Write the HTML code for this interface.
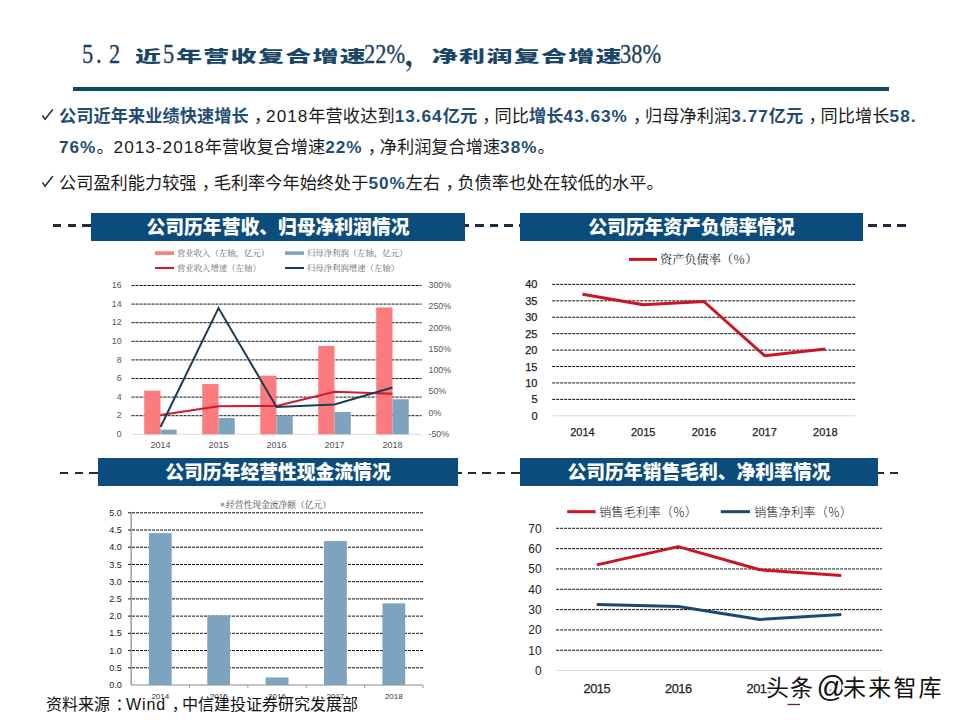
<!DOCTYPE html>
<html><head><meta charset="utf-8">
<style>
*{margin:0;padding:0;box-sizing:border-box}
html,body{width:960px;height:720px;background:#fff;overflow:hidden}
body{position:relative;font-family:"Liberation Sans","Noto Sans CJK SC",sans-serif;color:#222}
.abs{position:absolute}
.tn{position:absolute;top:36px;font-family:"Liberation Serif",serif;font-size:28px;line-height:36px;color:#1e3f60;white-space:nowrap;transform:scaleX(0.8);transform-origin:0 0;-webkit-text-stroke:0.35px #1e3f60}
.tc{position:absolute;top:43.7px;font-family:"Noto Sans CJK SC",sans-serif;font-weight:900;font-size:26px;letter-spacing:1.3px;line-height:36px;color:#1a4668;white-space:nowrap;transform:scaleY(0.61);transform-origin:0 0}
.tm{position:absolute;top:35.5px;font-family:"Noto Serif CJK SC",serif;font-weight:900;font-size:27px;line-height:36px;color:#1e3f60}
#bar{left:72.5px;top:87px;width:816px;height:4px;background:#0d4a64}
.bl{left:59px;font-size:17.2px;line-height:20px;white-space:nowrap;color:#1a1a1a}
.bl b{color:#1e4c73;font-weight:bold}
.cm{font-style:normal;position:relative;left:0.3em}
.bl s{text-decoration:none;letter-spacing:1px}
.hd{position:absolute;background:#0b4c7c;color:#fff;font-weight:900;font-size:18.8px;text-align:center;line-height:29.5px;height:28px;white-space:nowrap}
.dash{position:absolute;height:2.4px;background:repeating-linear-gradient(90deg,#1d2d3d 0 8.4px,transparent 8.4px 14.56px)}
svg{position:absolute;left:0;top:0}
.t1{font-family:"Liberation Sans",sans-serif;font-size:8.8px;fill:#555}
.t1x{font-family:"Liberation Sans",sans-serif;font-size:9px;fill:#505050}
.t2{font-family:"Liberation Sans",sans-serif;font-size:11px;fill:#222;stroke:#222;stroke-width:0.25px}
.t3{font-family:"Liberation Sans",sans-serif;font-size:9px;fill:#1a1a1a}
.t3x{font-family:"Liberation Sans",sans-serif;font-size:8px;fill:#333}
.t4x{font-family:"Liberation Sans",sans-serif;font-size:12.8px;letter-spacing:-0.5px;fill:#222;stroke:#222;stroke-width:0.25px}
.t4{font-family:"Liberation Sans",sans-serif;font-size:12px;fill:#222}
.lg{font-family:"Liberation Serif","Noto Serif CJK SC",serif;font-size:8.4px;fill:#666}
.lg3{font-family:"Liberation Serif","Noto Serif CJK SC",serif;font-size:8.75px;fill:#4a4a4a}
.lg2{font-family:"Noto Serif CJK SC",serif;font-weight:400;font-size:12.2px;fill:#222}
.lg4{font-family:"Noto Sans CJK SC",sans-serif;font-weight:300;font-size:12.3px;fill:#111}
#src{left:46px;top:692.5px;font-size:16px;color:#111;white-space:nowrap;line-height:24px}
#src s{text-decoration:none;letter-spacing:0.9px}
#src .cm{left:0.35em}
.wm{font-family:"Liberation Sans","Noto Sans CJK SC",sans-serif;font-size:23px;letter-spacing:1.1px;fill:#111;stroke:#fff;stroke-width:5px;paint-order:stroke;stroke-linejoin:round}
</style></head><body>
<div class="tn" style="left:81.5px">5</div>
<div class="tn" style="left:95.5px">.</div>
<div class="tn" style="left:108.8px">2</div>
<div class="tc" style="left:135px">近</div>
<div class="tn" style="left:163px">5</div>
<div class="tc" style="left:176px">年营收复合增速</div>
<div class="tn" style="left:363.5px">22%</div>
<div class="tm" style="left:405px">，</div>
<div class="tc" style="left:431.8px">净利润复合增速</div>
<div class="tn" style="left:619.5px">38%</div>
<div id="bar" class="abs"></div>

<svg width="960" height="720" style="position:absolute;left:0;top:0">
<path d="M42.5 115.5 L45 119.3 L52.8 109.5" fill="none" stroke="#1b2b3b" stroke-width="1.5"/>
<path d="M42.5 182.3 L45 186.1 L52.8 176.3" fill="none" stroke="#1b2b3b" stroke-width="1.5"/>
</svg>
<div class="bl abs" id="l1" style="top:106.2px;letter-spacing:0.07px"><b>公司近年来业绩快速增长</b><i class="cm">，</i><s>2018</s>年营收达到<b><s>13.64</s>亿元</b><i class="cm">，</i>同比<b>增长<s>43.63%</s></b><i class="cm">，</i>归母净利润<b><s>3.77</s>亿元</b><i class="cm">，</i>同比增长<b><s>58.</s></b></div>
<div class="bl abs" id="l2" style="top:137px"><b><s>76%</s></b>。<s>2013-2018</s>年营收复合增速<b><s>22%</s></b><i class="cm">，</i>净利润复合增速<b><s>38%</s></b>。</div>
<div class="bl abs" id="l3" style="top:173px">公司盈利能力较强<i class="cm">，</i>毛利率今年始终处于<b><s>50%</s></b>左右<i class="cm">，</i>负债率也处在较低的水平。</div>

<!-- header dashes -->
<div class="dash" style="left:53.3px;top:224.3px;width:852.7px"></div>
<div class="dash" style="left:60.4px;top:472.1px;width:838.6px"></div>
<div class="hd" style="left:91px;top:212.5px;width:374px">公司历年营收、归母净利润情况</div>
<div class="hd" style="left:520px;top:212.5px;width:343px">公司历年资产负债率情况</div>
<div class="hd" style="left:98px;top:458px;width:360px">公司历年经营性现金流情况</div>
<div class="hd" style="left:520px;top:458px;width:358px">公司历年销售毛利、净利率情况</div>

<!--SVG--><svg width="960" height="720" viewBox="0 0 960 720">
<line x1="131.5" y1="415.7" x2="421.5" y2="415.7" stroke="#111" stroke-width="1" stroke-dasharray="3 1"/>
<line x1="131.5" y1="397.1" x2="421.5" y2="397.1" stroke="#111" stroke-width="1" stroke-dasharray="3 1"/>
<line x1="131.5" y1="378.5" x2="421.5" y2="378.5" stroke="#111" stroke-width="1" stroke-dasharray="3 1"/>
<line x1="131.5" y1="359.9" x2="421.5" y2="359.9" stroke="#111" stroke-width="1" stroke-dasharray="3 1"/>
<line x1="131.5" y1="341.3" x2="421.5" y2="341.3" stroke="#111" stroke-width="1" stroke-dasharray="3 1"/>
<line x1="131.5" y1="322.7" x2="421.5" y2="322.7" stroke="#111" stroke-width="1" stroke-dasharray="3 1"/>
<line x1="131.5" y1="304.1" x2="421.5" y2="304.1" stroke="#111" stroke-width="1" stroke-dasharray="3 1"/>
<line x1="131.5" y1="285.5" x2="421.5" y2="285.5" stroke="#111" stroke-width="1" stroke-dasharray="3 1"/>
<line x1="131.5" y1="434.3" x2="421.5" y2="434.3" stroke="#d9d9d9" stroke-width="1"/>
<text x="121.6" y="436.9" class="t1" text-anchor="end">0</text>
<text x="121.6" y="418.3" class="t1" text-anchor="end">2</text>
<text x="121.6" y="399.7" class="t1" text-anchor="end">4</text>
<text x="121.6" y="381.1" class="t1" text-anchor="end">6</text>
<text x="121.6" y="362.5" class="t1" text-anchor="end">8</text>
<text x="121.6" y="343.9" class="t1" text-anchor="end">10</text>
<text x="121.6" y="325.3" class="t1" text-anchor="end">12</text>
<text x="121.6" y="306.7" class="t1" text-anchor="end">14</text>
<text x="121.6" y="288.1" class="t1" text-anchor="end">16</text>
<text x="428.5" y="436.9" class="t1">-50%</text>
<text x="428.5" y="415.6" class="t1">0%</text>
<text x="428.5" y="394.4" class="t1">50%</text>
<text x="428.5" y="373.1" class="t1">100%</text>
<text x="428.5" y="351.9" class="t1">150%</text>
<text x="428.5" y="330.6" class="t1">200%</text>
<text x="428.5" y="309.4" class="t1">250%</text>
<text x="428.5" y="288.1" class="t1">300%</text>
<rect x="144.25" y="390.59" width="16.25" height="43.71" fill="#fc7b7f"/>
<rect x="160.50" y="429.65" width="16.25" height="4.65" fill="#7ea3bf"/>
<text x="160.5" y="448" class="t1x" text-anchor="middle">2014</text>
<rect x="202.25" y="384.08" width="16.25" height="50.22" fill="#fc7b7f"/>
<rect x="218.50" y="418.03" width="16.25" height="16.28" fill="#7ea3bf"/>
<text x="218.5" y="448" class="t1x" text-anchor="middle">2015</text>
<rect x="260.25" y="375.71" width="16.25" height="58.59" fill="#fc7b7f"/>
<rect x="276.50" y="415.70" width="16.25" height="18.60" fill="#7ea3bf"/>
<text x="276.5" y="448" class="t1x" text-anchor="middle">2016</text>
<rect x="318.25" y="345.95" width="16.25" height="88.35" fill="#fc7b7f"/>
<rect x="334.50" y="411.98" width="16.25" height="22.32" fill="#7ea3bf"/>
<text x="334.5" y="448" class="t1x" text-anchor="middle">2017</text>
<rect x="376.25" y="307.45" width="16.25" height="126.85" fill="#fc7b7f"/>
<rect x="392.50" y="399.24" width="16.25" height="35.06" fill="#7ea3bf"/>
<text x="392.5" y="448" class="t1x" text-anchor="middle">2018</text>
<polyline points="160.5,415 218.5,406.2 276.5,406 334.5,391.8 392.5,393.8" fill="none" stroke="#d11a2a" stroke-width="2"/>
<polyline points="160.5,427 218.5,308 276.5,407 334.5,404.5 392.5,387.5" fill="none" stroke="#1d3c5a" stroke-width="2"/>
<rect x="155" y="251.3" width="19" height="3.6" fill="#fc7b7f"/>
<text x="177" y="255.9" class="lg">营业收入（左轴，亿元）</text>
<rect x="285" y="251.3" width="19" height="3.6" fill="#7ea3bf"/>
<text x="307" y="255.9" class="lg">归母净利润（左轴，亿元）</text>
<line x1="155" y1="268" x2="174" y2="268" stroke="#d11a2a" stroke-width="2"/>
<text x="177" y="271" class="lg">营业收入增速（左轴）</text>
<line x1="285" y1="268" x2="304" y2="268" stroke="#1d3c5a" stroke-width="2"/>
<text x="307" y="271" class="lg">归母净利润增速（左轴）</text>
<line x1="552.2" y1="399.38" x2="855.6" y2="399.38" stroke="#111" stroke-width="1" stroke-dasharray="3 1"/>
<line x1="552.2" y1="382.95" x2="855.6" y2="382.95" stroke="#111" stroke-width="1" stroke-dasharray="3 1"/>
<line x1="552.2" y1="366.52" x2="855.6" y2="366.52" stroke="#111" stroke-width="1" stroke-dasharray="3 1"/>
<line x1="552.2" y1="350.1" x2="855.6" y2="350.1" stroke="#111" stroke-width="1" stroke-dasharray="3 1"/>
<line x1="552.2" y1="333.67" x2="855.6" y2="333.67" stroke="#111" stroke-width="1" stroke-dasharray="3 1"/>
<line x1="552.2" y1="317.25" x2="855.6" y2="317.25" stroke="#111" stroke-width="1" stroke-dasharray="3 1"/>
<line x1="552.2" y1="300.82" x2="855.6" y2="300.82" stroke="#111" stroke-width="1" stroke-dasharray="3 1"/>
<line x1="552.2" y1="284.4" x2="855.6" y2="284.4" stroke="#111" stroke-width="1" stroke-dasharray="3 1"/>
<line x1="552.2" y1="415.8" x2="855.6" y2="415.8" stroke="#d9d9d9" stroke-width="1"/>
<text x="537.5" y="419.8" class="t2" text-anchor="end">0</text>
<text x="537.5" y="403.4" class="t2" text-anchor="end">5</text>
<text x="537.5" y="386.9" class="t2" text-anchor="end">10</text>
<text x="537.5" y="370.5" class="t2" text-anchor="end">15</text>
<text x="537.5" y="354.1" class="t2" text-anchor="end">20</text>
<text x="537.5" y="337.7" class="t2" text-anchor="end">25</text>
<text x="537.5" y="321.2" class="t2" text-anchor="end">30</text>
<text x="537.5" y="304.8" class="t2" text-anchor="end">35</text>
<text x="537.5" y="288.4" class="t2" text-anchor="end">40</text>
<text x="582.5" y="436" class="t2" text-anchor="middle">2014</text>
<text x="643.2" y="436" class="t2" text-anchor="middle">2015</text>
<text x="703.9" y="436" class="t2" text-anchor="middle">2016</text>
<text x="764.6" y="436" class="t2" text-anchor="middle">2017</text>
<text x="825.3" y="436" class="t2" text-anchor="middle">2018</text>
<polyline points="582.5,294.3 643.2,304.8 703.9,301.5 764.6,355.7 825.3,349.1" fill="none" stroke="#cc1424" stroke-width="3" stroke-linejoin="round"/>
<line x1="629" y1="259.4" x2="657" y2="259.4" stroke="#cc1424" stroke-width="3"/>
<text x="660" y="264" class="lg2">资产负债率（％）</text>
<line x1="128" y1="667.78" x2="423" y2="667.78" stroke="#111" stroke-width="1" stroke-dasharray="3 1"/>
<line x1="128" y1="650.56" x2="423" y2="650.56" stroke="#111" stroke-width="1" stroke-dasharray="3 1"/>
<line x1="128" y1="633.34" x2="423" y2="633.34" stroke="#111" stroke-width="1" stroke-dasharray="3 1"/>
<line x1="128" y1="616.12" x2="423" y2="616.12" stroke="#111" stroke-width="1" stroke-dasharray="3 1"/>
<line x1="128" y1="598.9" x2="423" y2="598.9" stroke="#111" stroke-width="1" stroke-dasharray="3 1"/>
<line x1="128" y1="581.68" x2="423" y2="581.68" stroke="#111" stroke-width="1" stroke-dasharray="3 1"/>
<line x1="128" y1="564.46" x2="423" y2="564.46" stroke="#111" stroke-width="1" stroke-dasharray="3 1"/>
<line x1="128" y1="547.24" x2="423" y2="547.24" stroke="#111" stroke-width="1" stroke-dasharray="3 1"/>
<line x1="128" y1="530.02" x2="423" y2="530.02" stroke="#111" stroke-width="1" stroke-dasharray="3 1"/>
<line x1="128" y1="512.8" x2="423" y2="512.8" stroke="#111" stroke-width="1" stroke-dasharray="3 1"/>
<line x1="131.1" y1="511.79999999999995" x2="131.1" y2="685" stroke="#6b6b6b" stroke-width="1"/>
<line x1="131.1" y1="685" x2="423" y2="685" stroke="#8a8a8a" stroke-width="1"/>
<text x="121.8" y="688.1" class="t3" text-anchor="end">0.0</text>
<text x="121.8" y="670.9" class="t3" text-anchor="end">0.5</text>
<text x="121.8" y="653.7" class="t3" text-anchor="end">1.0</text>
<text x="121.8" y="636.4" class="t3" text-anchor="end">1.5</text>
<text x="121.8" y="619.2" class="t3" text-anchor="end">2.0</text>
<text x="121.8" y="602.0" class="t3" text-anchor="end">2.5</text>
<text x="121.8" y="584.8" class="t3" text-anchor="end">3.0</text>
<text x="121.8" y="567.6" class="t3" text-anchor="end">3.5</text>
<text x="121.8" y="550.3" class="t3" text-anchor="end">4.0</text>
<text x="121.8" y="533.1" class="t3" text-anchor="end">4.5</text>
<text x="121.8" y="515.9" class="t3" text-anchor="end">5.0</text>
<rect x="148.89" y="533.12" width="22.8" height="151.88" fill="#7ea3bf"/>
<text x="160.3" y="699" class="t3x" text-anchor="middle">2014</text>
<line x1="189.5" y1="685" x2="189.5" y2="688" stroke="#999" stroke-width="1"/>
<rect x="207.27" y="615.43" width="22.8" height="69.57" fill="#7ea3bf"/>
<text x="218.7" y="699" class="t3x" text-anchor="middle">2015</text>
<line x1="247.9" y1="685" x2="247.9" y2="688" stroke="#999" stroke-width="1"/>
<rect x="265.65" y="677.42" width="22.8" height="7.58" fill="#7ea3bf"/>
<text x="277.0" y="699" class="t3x" text-anchor="middle">2016</text>
<line x1="306.2" y1="685" x2="306.2" y2="688" stroke="#999" stroke-width="1"/>
<rect x="324.03" y="541.04" width="22.8" height="143.96" fill="#7ea3bf"/>
<text x="335.4" y="699" class="t3x" text-anchor="middle">2017</text>
<line x1="364.6" y1="685" x2="364.6" y2="688" stroke="#999" stroke-width="1"/>
<rect x="382.41" y="603.38" width="22.8" height="81.62" fill="#7ea3bf"/>
<text x="393.8" y="699" class="t3x" text-anchor="middle">2018</text>
<line x1="423.0" y1="685" x2="423.0" y2="688" stroke="#999" stroke-width="1"/>
<rect x="220.8" y="502.8" width="3.5" height="3.5" fill="#8aa8c0"/>
<text x="226" y="508.3" class="lg3">经营性现金流净额（亿元）</text>
<line x1="556.1" y1="650.27" x2="882" y2="650.27" stroke="#111" stroke-width="1" stroke-dasharray="3 1"/>
<line x1="556.1" y1="629.94" x2="882" y2="629.94" stroke="#111" stroke-width="1" stroke-dasharray="3 1"/>
<line x1="556.1" y1="609.61" x2="882" y2="609.61" stroke="#111" stroke-width="1" stroke-dasharray="3 1"/>
<line x1="556.1" y1="589.29" x2="882" y2="589.29" stroke="#111" stroke-width="1" stroke-dasharray="3 1"/>
<line x1="556.1" y1="568.96" x2="882" y2="568.96" stroke="#111" stroke-width="1" stroke-dasharray="3 1"/>
<line x1="556.1" y1="548.63" x2="882" y2="548.63" stroke="#111" stroke-width="1" stroke-dasharray="3 1"/>
<line x1="556.1" y1="528.3" x2="882" y2="528.3" stroke="#111" stroke-width="1" stroke-dasharray="3 1"/>
<line x1="556.1" y1="670.6" x2="882" y2="670.6" stroke="#d9d9d9" stroke-width="1"/>
<text x="541.7" y="674.9" class="t4" text-anchor="end">0</text>
<text x="541.7" y="654.6" class="t4" text-anchor="end">10</text>
<text x="541.7" y="634.2" class="t4" text-anchor="end">20</text>
<text x="541.7" y="613.9" class="t4" text-anchor="end">30</text>
<text x="541.7" y="593.6" class="t4" text-anchor="end">40</text>
<text x="541.7" y="573.3" class="t4" text-anchor="end">50</text>
<text x="541.7" y="552.9" class="t4" text-anchor="end">60</text>
<text x="541.7" y="532.6" class="t4" text-anchor="end">70</text>
<text x="596.8" y="693" class="t4x" text-anchor="middle">2015</text>
<text x="678.3" y="693" class="t4x" text-anchor="middle">2016</text>
<text x="759.8" y="693" class="t4x" text-anchor="middle">2017</text>
<text x="841.3" y="693" class="t4x" text-anchor="middle">2018</text>
<polyline points="596.8,564.9 678.3,546.6 759.8,569.8 841.3,575.5" fill="none" stroke="#cc1424" stroke-width="3" stroke-linejoin="round"/>
<polyline points="596.8,604.5 678.3,606.6 759.8,619.4 841.3,614.5" fill="none" stroke="#1a4a72" stroke-width="3" stroke-linejoin="round"/>
<line x1="567.2" y1="511.7" x2="595.6" y2="511.7" stroke="#cc1424" stroke-width="3"/>
<text x="599" y="517" class="lg4">销售毛利率（％）</text>
<line x1="720.8" y1="511.7" x2="750" y2="511.7" stroke="#1a4a72" stroke-width="3"/>
<text x="754" y="517" class="lg4">销售净利率（％）</text>
</svg><!--/SVG-->

<div id="src" class="abs">资料来源<i class="cm">：</i><s>Wind</s><i class="cm">，</i>中信建投证券研究发展部</div>
<svg width="960" height="720" style="position:absolute;left:0;top:0"><line x1="787.5" y1="704.5" x2="800" y2="704.5" stroke="#7a1a2a" stroke-width="1.3"/><text x="766" y="695.5" class="wm">头条<tspan x="816.5" font-size="29px" dy="1">@</tspan><tspan x="843" dy="-1" letter-spacing="2.2">未来智库</tspan></text></svg>
</body></html>
